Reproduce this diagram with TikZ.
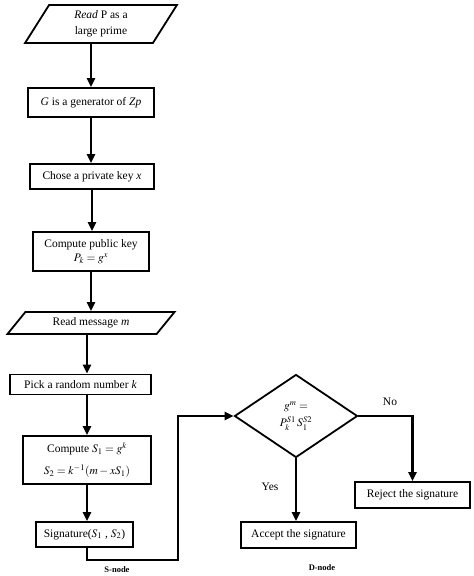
\documentclass[tikz,border=0pt]{standalone}
\usepackage{mathptmx}
\usepackage{fontspec}
\setmainfont{Liberation Serif}
\usetikzlibrary{shapes.geometric}
\usetikzlibrary{arrows.meta}
\usetikzlibrary{positioning}

\begin{document}
\begin{tikzpicture}[x=1pt,y=-1pt,line width=2.2pt,>={Triangle[length=9pt,width=8pt]},
	font=\fontsize{11.5}{14}\selectfont,
	proc/.style={draw,rectangle,align=center,inner sep=0pt,line width=1.8pt},
	io/.style={draw,trapezium,trapezium stretches=true,align=center,inner sep=0pt,line width=1.8pt},
	decide/.style={draw,diamond,align=center,inner sep=0pt,line width=1.8pt},
	tag/.style={font=\fontsize{8.5}{10}\selectfont\bfseries}]
	\useasboundingbox (0,0) rectangle (474,576);
	\node[io,trapezium left angle=65,trapezium right angle=115,minimum width=152pt,minimum height=38pt] (ReadP) at (101,24) {\textit{Read} P as a\\[2pt]large prime};
	\node[proc,minimum width=126pt,minimum height=29pt] (Gen) at (91,102.5) {\textit{G} is a generator of \textit{Zp}};
	\node[proc,minimum width=124pt,minimum height=25pt] (Key) at (92,176.5) {Chose a private key \textit{x}};
	\node[proc,minimum width=116pt,minimum height=39pt] (Pub) at (91,251.5) {Compute public key\\$P_k = g^x$};
	\node[io,trapezium left angle=45,trapezium right angle=135,minimum width=168pt,minimum height=22pt] (ReadM) at (91,323) {Read message \textit{m}};
	\node[proc,minimum width=141pt,minimum height=20pt] (Pick) at (80.5,384.5) {Pick a random number \textit{k}};
	\node[proc,minimum width=128pt,minimum height=48pt] (CompS) at (87,460) {Compute $S_1 = g^k$\\[8pt]$S_2 = k^{-1}(m - xS_1)$};
	\node[proc,minimum width=97pt,minimum height=25pt] (Sig) at (84.5,534.5) {Signature($S_1$ , $S_2$)};
	\node[decide,minimum width=123pt,minimum height=83pt] (Dec) at (296,416) {$g^m =$\\[3pt]$P_k^{S1}\,S_1^{S2}$};
	\node[proc,minimum width=115pt,minimum height=26pt] (Rej) at (412.5,495) {Reject the signature};
	\node[proc,minimum width=115pt,minimum height=26pt] (Acc) at (298.5,535) {Accept the signature};
	\coordinate (SBend) at (178,560);
	\node (No) at (390,402) {No};
	\node (Yes) at (270,487) {Yes};
	\node[tag] (SLab) at (117,570) {S-node};
	\node[tag] (DLab) at (322,568) {D-node};
	\draw[->] (ReadP.south -| Gen.north) -- (Gen.north);
	\draw[->] (Gen.south) -- (Gen.south |- Key.north);
	\draw[->] (Key.south) -- (Key.south |- Pub.north);
	\draw[->] (Pub.south) -- (Pub.south |- ReadM.north);
	\draw[->] (ReadM.south -| CompS.north) -- (Pick.north -| CompS.north);
	\draw[->] (Pick.south -| CompS.north) -- (CompS.north);
	\draw[->] (CompS.south) -- (CompS.south |- Sig.north);
	\draw[->] (Sig.south -| CompS.south) |- (SBend) |- (Dec.west);
	\draw[->] (Dec.east) -| (Rej.north);
	\draw[->] (Dec.south) -- (Dec.south |- Acc.north);
\end{tikzpicture}
\end{document}
